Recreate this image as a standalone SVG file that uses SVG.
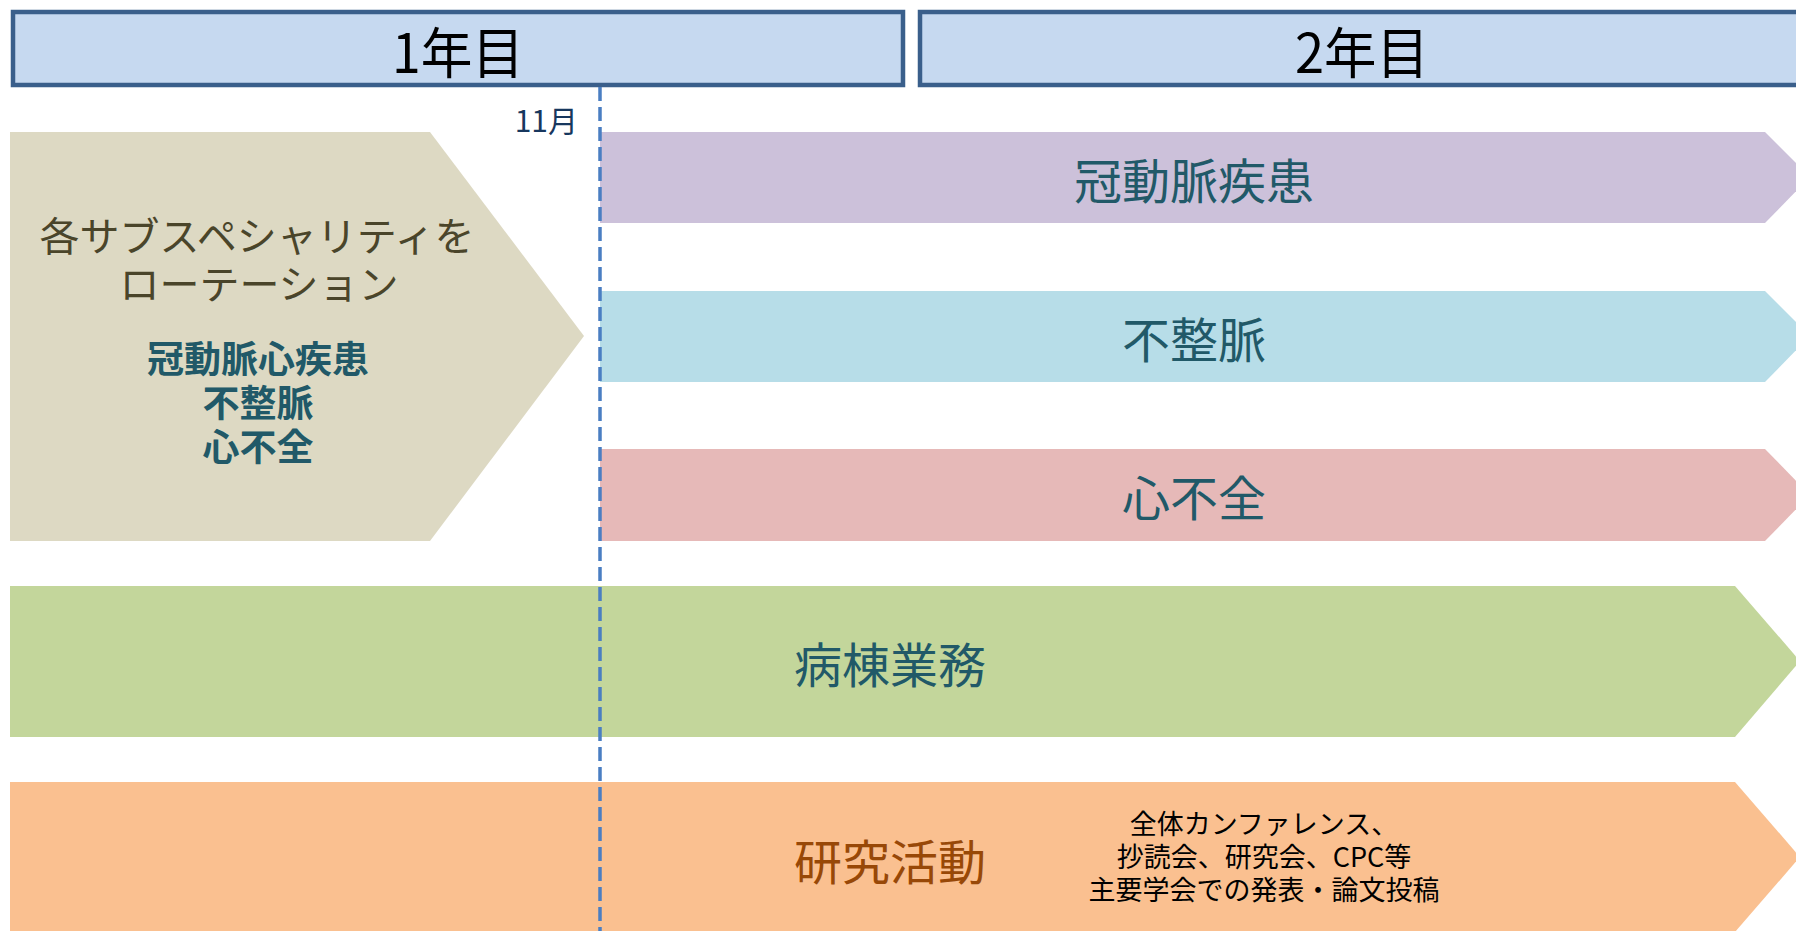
<svg xmlns="http://www.w3.org/2000/svg" width="1796" height="931" viewBox="0 0 1796 931">
<style>
  text { font-family: "Noto Sans CJK JP", "Noto Sans", sans-serif; }
  .hdr { fill: #C6D9F0; stroke: #3A5F8B; stroke-width: 4.5; }
  .hdrtxt { font-size: 55px; fill: #000; text-anchor: middle; }
  .lbl { font-size: 48px; fill: #215968; text-anchor: middle; }
  .sub { font-size: 37px; font-weight: bold; fill: #215968; text-anchor: middle; }
  .rot { font-size: 40px; fill: #4A452A; text-anchor: middle; }
  .note { font-size: 27px; fill: #000; text-anchor: middle; }
  .tl { stroke: #4A7EC2; stroke-width: 3.5; stroke-dasharray: 14 6; fill: none; }
</style>
<rect width="1796" height="931" fill="#FFFFFF"/>

<g id="year1">
  <rect class="hdr" x="13" y="12" width="890" height="73"/>
  <text class="hdrtxt" x="458" y="73" textLength="132" lengthAdjust="spacingAndGlyphs">1年目</text>
</g>
<g id="year2">
  <rect class="hdr" x="920" y="12" width="900" height="73"/>
  <text class="hdrtxt" x="1362" y="73" textLength="134" lengthAdjust="spacingAndGlyphs">2年目</text>
</g>

<g id="rotation">
  <polygon points="10,132 430,132 584,336 430,541 10,541" fill="#DDD9C3"/>
  <text class="rot" x="257" y="251">各サブスペシャリティを</text>
  <text class="rot" x="259" y="299">ローテーション</text>
  <text class="sub" x="258" y="373">冠動脈心疾患</text>
  <text class="sub" x="258" y="417">不整脈</text>
  <text class="sub" x="258" y="461">心不全</text>
</g>

<g id="coronary">
  <polygon points="600,132 1765,132 1810,177 1765,223 600,223" fill="#CCC1DA"/>
  <text class="lbl" x="1194" y="199">冠動脈疾患</text>
</g>
<g id="arrhythmia">
  <polygon points="600,291 1765,291 1810,336 1765,382 600,382" fill="#B7DDE8"/>
  <text class="lbl" x="1194" y="358">不整脈</text>
</g>
<g id="heartfailure">
  <polygon points="600,449 1765,449 1810,495 1765,541 600,541" fill="#E6B9B8"/>
  <text class="lbl" x="1194" y="516">心不全</text>
</g>

<g id="ward">
  <polygon points="10,586 1735,586 1800,661 1735,737 10,737" fill="#C3D69B"/>
  <text class="lbl" x="890" y="683">病棟業務</text>
</g>

<g id="research">
  <polygon points="10,782 1735,782 1800,857 1735,932 10,932" fill="#FAC090"/>
  <text class="lbl" x="890" y="880" style="fill:#984807">研究活動</text>
  <text class="note" x="1264" y="834">全体カンファレンス、</text>
  <text class="note" x="1264" y="867">抄読会、研究会、CPC等</text>
  <text class="note" x="1264" y="900">主要学会での発表・論文投稿</text>
</g>

<g id="connectors">
  <line class="tl" x1="600" y1="87" x2="600" y2="931"/>
  <text x="578" y="132" style="font-size:30px;fill:#17375E;text-anchor:end">11月</text>
</g>
</svg>
